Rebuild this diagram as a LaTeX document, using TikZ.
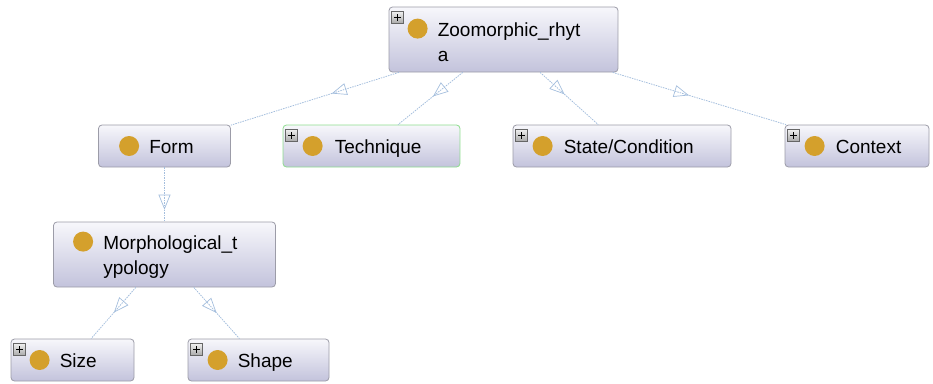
\documentclass[tikz,border=0pt]{standalone}
\usepackage{fontspec}
\setmainfont{Liberation Sans}
\usetikzlibrary{arrows.meta,decorations.markings}
\definecolor{boxtop}{HTML}{F7F7FB}
\definecolor{boxbot}{HTML}{C3C3DC}
\definecolor{boxline}{HTML}{9C9CA8}
\definecolor{techline}{HTML}{8EDC8E}
\definecolor{gold}{HTML}{D4A02C}
\definecolor{linkblue}{HTML}{A4BEDD}
\definecolor{plustop}{HTML}{EEEEEE}
\definecolor{plusbot}{HTML}{A8A8A8}
\begin{document}
\begin{tikzpicture}[x=1pt,y=-1pt,
  cls/.style={draw=boxline, line width=0.8pt, rounded corners=3.5pt, top color=boxtop, bottom color=boxbot, inner sep=0pt},
  dot/.style={circle, fill=gold, minimum size=20pt, inner sep=0pt},
  lbl/.style={anchor=mid west, inner sep=0pt, font=\fontsize{19pt}{23pt}\selectfont},
  plusicon/.style={draw=black!60, line width=0.6pt, minimum size=12pt, inner sep=0pt, top color=plustop, bottom color=plusbot,
    path picture={\draw[line width=1.3pt,black] ([xshift=-3.2pt]path picture bounding box.center) -- ([xshift=3.2pt]path picture bounding box.center);
                  \draw[line width=1.3pt,black] ([yshift=-3.2pt]path picture bounding box.center) -- ([yshift=3.2pt]path picture bounding box.center);}},
  link/.style={draw=linkblue, line width=0.8pt, dash pattern=on 1.5pt off 1pt,
    decoration={markings, mark=at position #1 with {\arrow[linkblue, line width=0.7pt]{Triangle[open, length=15pt, width=12pt]}}},
    postaction={decorate}}
]
\useasboundingbox (0,0) rectangle (933,383);

% boxes
\node[cls, minimum width=229pt, minimum height=65pt] (zoo) at (503.5,39.5) {};
\node[cls, minimum width=132pt, minimum height=42pt] (form) at (164.5,146) {};
\node[cls, draw=techline, minimum width=177pt, minimum height=42pt] (tech) at (371.5,146) {};
\node[cls, minimum width=218pt, minimum height=42pt] (state) at (622,146) {};
\node[cls, minimum width=144pt, minimum height=42pt] (context) at (857,146) {};
\node[cls, minimum width=222pt, minimum height=65pt] (morph) at (164.5,254.5) {};
\node[cls, minimum width=123pt, minimum height=42pt] (size) at (72.5,360) {};
\node[cls, minimum width=141pt, minimum height=42pt] (shape) at (258.5,360) {};

% links (parent -> child)
\draw[link=0.40] (zoo) -- (form);
\draw[link=0.46] (zoo) -- (tech);
\draw[link=0.42] (zoo) -- (state);
\draw[link=0.44] (zoo) -- (context);
\draw[link=0.78] (form) -- (morph);
\draw[link=0.49] (morph) -- (size);
\draw[link=0.50] (morph) -- (shape);

% Zoomorphic_rhyta
\node[plusicon] (zooplus) at ([xshift=9pt,yshift=-11pt]zoo.north west) {};
\node[dot] (zoodot) at ([xshift=29pt,yshift=-22pt]zoo.north west) {};
\node[lbl] (zootxt1) at ([xshift=49pt,yshift=-27pt]zoo.north west) {Zoomorphic\_rhyt};
\node[lbl] (zootxt2) at ([xshift=49pt,yshift=-52pt]zoo.north west) {a};

% Form
\node[dot] (formdot) at ([xshift=31pt]form.west) {};
\node[lbl] (formtxt) at ([xshift=51pt,yshift=-5pt]form.west) {Form};

% Technique
\node[plusicon] (techplus) at ([xshift=9pt,yshift=-11pt]tech.north west) {};
\node[dot] (techdot) at ([xshift=30pt]tech.west) {};
\node[lbl] (techtxt) at ([xshift=52pt,yshift=-5pt]tech.west) {Technique};

% State/Condition
\node[plusicon] (stateplus) at ([xshift=9pt,yshift=-11pt]state.north west) {};
\node[dot] (statedot) at ([xshift=30pt]state.west) {};
\node[lbl] (statetxt) at ([xshift=51pt,yshift=-5pt]state.west) {State/Condition};

% Context
\node[plusicon] (contextplus) at ([xshift=9pt,yshift=-11pt]context.north west) {};
\node[dot] (contextdot) at ([xshift=30pt]context.west) {};
\node[lbl] (contexttxt) at ([xshift=51pt,yshift=-5pt]context.west) {Context};

% Morphological_typology
\node[dot] (morphdot) at ([xshift=30pt,yshift=-20pt]morph.north west) {};
\node[lbl] (morphtxt1) at ([xshift=50pt,yshift=-25pt]morph.north west) {Morphological\_t};
\node[lbl] (morphtxt2) at ([xshift=50pt,yshift=-50pt]morph.north west) {ypology};

% Size
\node[plusicon] (sizeplus) at ([xshift=9pt,yshift=-11pt]size.north west) {};
\node[dot] (sizedot) at ([xshift=29pt]size.west) {};
\node[lbl] (sizetxt) at ([xshift=49pt,yshift=-5pt]size.west) {Size};

% Shape
\node[plusicon] (shapeplus) at ([xshift=9pt,yshift=-11pt]shape.north west) {};
\node[dot] (shapedot) at ([xshift=30pt]shape.west) {};
\node[lbl] (shapetxt) at ([xshift=50pt,yshift=-5pt]shape.west) {Shape};
\end{tikzpicture}
\end{document}
